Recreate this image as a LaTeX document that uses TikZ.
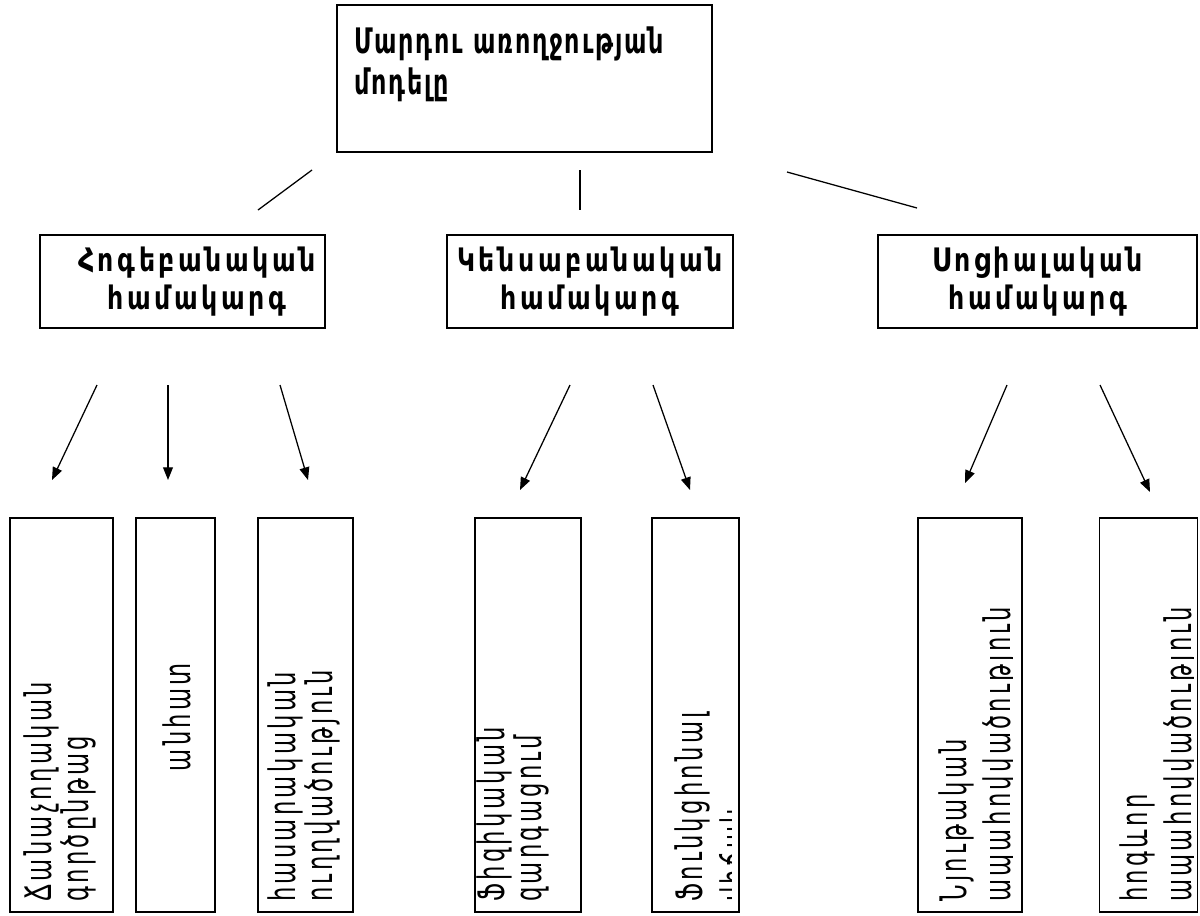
\documentclass[tikz,border=0pt]{standalone}
\usepackage{fontspec}
\usetikzlibrary{arrows.meta}
\newfontfamily\armtitle[LetterSpace=5,FakeStretch=0.68]{DejaVu Sans}
\newfontfamily\armhead[LetterSpace=11,FakeStretch=0.78]{DejaVu Sans}
\newfontfamily\armtext[LetterSpace=9,FakeStretch=0.62]{DejaVu Sans}

\begin{document}
\begin{tikzpicture}[x=0.025cm, y=-0.025cm, >={Triangle[length=9pt,width=7pt]},
  sysbox/.style={draw, line width=1.1pt, inner sep=0pt, minimum height=2.325cm, align=center,
    font=\armhead\bfseries\fontsize{23}{27}\selectfont},
  itembox/.style={draw, line width=1.1pt, inner sep=0pt, minimum height=9.85cm},
  vtext/.style={rotate=90, anchor=west, inner sep=0pt, align=left,
    font=\armtext\fontsize{26}{19.2}\selectfont},
  link/.style={line width=0.9pt},
  pointer/.style={line width=0.9pt, ->}]
  \useasboundingbox (0,0) rectangle (1200,915);

  % top: model of human health
  \node[draw, line width=1.1pt, minimum width=9.375cm, minimum height=3.675cm] (model) at (524.5,78.5) {};
  \node[anchor=north west, inner sep=0pt, align=left, font=\armtitle\bfseries\fontsize{25}{29}\selectfont]
    (modeltext) at (354,27) {Մարդու առողջության\\մոդելը};

  % three systems
  \node[sysbox, minimum width=7.125cm] (psy) at (182.5,281.5) {};
  \node[font=\armhead\bfseries\fontsize{23}{27}\selectfont, align=center, inner sep=0pt]
    (psytext) at (197,281.5) {Հոգեբանական\\համակարգ};
  \node[sysbox, minimum width=7.15cm] (bio) at (590,281.5) {Կենսաբանական\\համակարգ};
  \node[sysbox, minimum width=7.975cm] (socsys) at (1037.5,281.5) {Սոցիալական\\համակարգ};

  \coordinate (la1) at (312,170); \coordinate (la2) at (258,210);
  \coordinate (lb1) at (580,170); \coordinate (lb2) at (580,210);
  \coordinate (lc1) at (787,172); \coordinate (lc2) at (917,208);
  \draw[link] (la1) -- (la2);
  \draw[link] (lb1) -- (lb2);
  \draw[link] (lc1) -- (lc2);

  % items
  \node[itembox, minimum width=2.575cm] (cogn) at (61.5,715) {};
  \node[itembox, minimum width=1.975cm] (indiv) at (175.5,715) {};
  \node[itembox, minimum width=2.375cm] (orient) at (305.5,715) {};
  \node[itembox, minimum width=2.65cm] (phys) at (528,715) {};
  \node[itembox, minimum width=2.175cm] (func) at (695.5,715) {};
  \node[itembox, minimum width=2.6cm] (mat) at (970,715) {};
  \node[itembox, minimum width=2.45cm] (spir) at (1148.5,715) {};

  \node[vtext] (cogntext) at (60,902) {Ճանաչողական\\գործընթաց};
  \node[vtext, anchor=center] (indivtext) at (177,717) {անհատ};
  \node[vtext] (orienttext) at (304,902) {հասարակական\\ուղղվածություն};
  \node[vtext] (phystext) at (513,902) {Ֆիզիկական\\զարգացում};
  \node[vtext] (functexta) at (692,902) {Ֆունկցիոնալ};
  \node[vtext] (mattexta) at (956,902) {Նյութական};
  \node[vtext] (spirtexta) at (1137,902) {հոգևոր};
  \begin{scope}
    \clip (652,518) rectangle (731,912);
    \node[vtext] (functextb) at (737,902) {վիճակ};
  \end{scope}
  \begin{scope}
    \clip (918,518) rectangle (1012,912);
    \node[vtext] (mattextb) at (1000,902) {ապահովվածություն};
  \end{scope}
  \begin{scope}
    \clip (1100,518) rectangle (1193,912);
    \node[vtext] (spirtextb) at (1181,902) {ապահովվածություն};
  \end{scope}

  % arrows
  \coordinate (pa1) at (97,385);   \coordinate (pa2) at (52,480);
  \coordinate (pb1) at (168,385);  \coordinate (pb2) at (168,480);
  \coordinate (pc1) at (280,385);  \coordinate (pc2) at (308,480);
  \coordinate (pd1) at (570,385);  \coordinate (pd2) at (520,490);
  \coordinate (pe1) at (653,385);  \coordinate (pe2) at (690,490);
  \coordinate (pf1) at (1007,385); \coordinate (pf2) at (965,483);
  \coordinate (pg1) at (1100,385); \coordinate (pg2) at (1150,492);
  \draw[pointer] (pa1) -- (pa2);
  \draw[pointer] (pb1) -- (pb2);
  \draw[pointer] (pc1) -- (pc2);
  \draw[pointer] (pd1) -- (pd2);
  \draw[pointer] (pe1) -- (pe2);
  \draw[pointer] (pf1) -- (pf2);
  \draw[pointer] (pg1) -- (pg2);
\end{tikzpicture}
\end{document}
